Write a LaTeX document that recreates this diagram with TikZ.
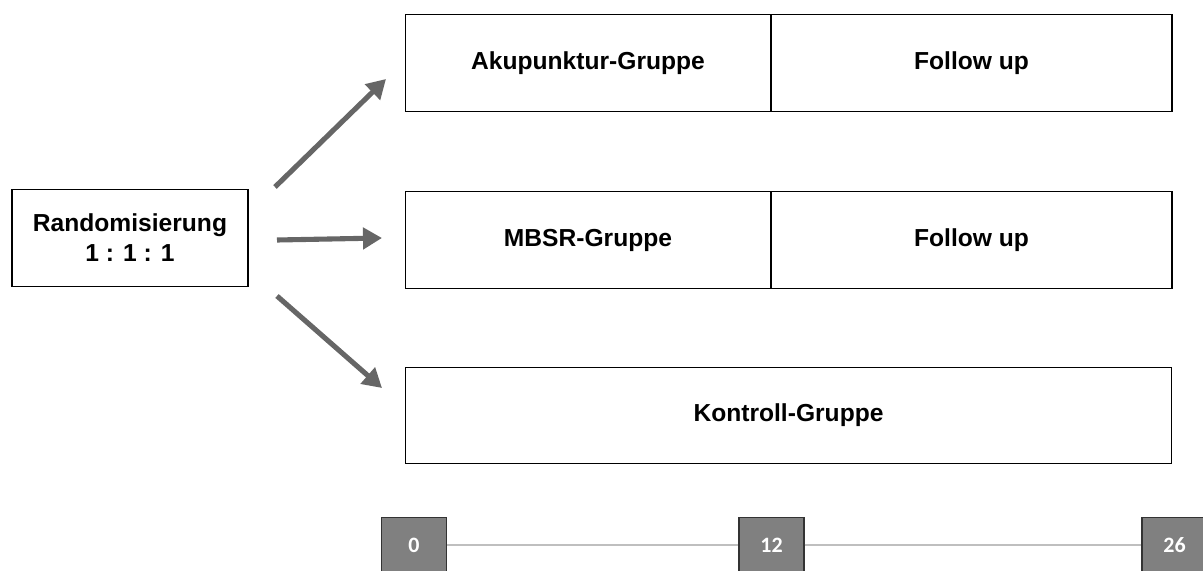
\documentclass[tikz,border=0pt]{standalone}
\usepackage{fontspec}
\setmainfont{Liberation Sans}
\newfontfamily\tickfont{Carlito}
\usetikzlibrary{arrows.meta}

\tikzset{
  armbox/.style={draw, line width=0.6pt, minimum height=1.93cm, inner sep=0pt, font=\bfseries\fontsize{14}{17}\selectfont},
  tickbox/.style={draw=black!80, fill=black!50, line width=0.6pt, minimum width=1.3cm, minimum height=1.1cm, inner sep=0pt, text=white, font=\tickfont\bfseries\fontsize{12.5}{14}\selectfont},
  grayarrow/.style={draw=black!60, line width=2.9pt, -{Triangle[length=0.38cm, width=0.42cm]}}
}

\begin{document}
\begin{tikzpicture}[x=0.02cm, y=-0.02cm]
  \useasboundingbox (0,0) rectangle (1203,571);
  \clip (0,0) rectangle (1203,571);

  % Randomisierung
  \node[armbox, minimum width=4.72cm, align=center] (rand) at (130,238) {Randomisierung\\1 : 1 : 1};

  % Gruppen
  \node[armbox, minimum width=7.32cm] (aku) at (588,63) {Akupunktur-Gruppe};
  \node[armbox, minimum width=8.02cm] (akufu) at (971.5,63) {Follow up};
  \node[armbox, minimum width=7.32cm] (mbsr) at (588,240) {MBSR-Gruppe};
  \node[armbox, minimum width=8.02cm] (mbsrfu) at (971.5,240) {Follow up};
  \node[armbox, minimum width=15.34cm] (kontr) at (788.5,415.5) {Kontroll-Gruppe};

  % Pfeile
  \coordinate (upstart) at (275,187);
  \coordinate (upend) at (386,79);
  \coordinate (midstart) at (277,240);
  \coordinate (midend) at (382,238);
  \coordinate (lowstart) at (277,296);
  \coordinate (lowend) at (382,388);
  \draw[grayarrow] (upstart) -- (upend);
  \draw[grayarrow] (midstart) -- (midend);
  \draw[grayarrow] (lowstart) -- (lowend);

  % Zeitachse (Wochen)
  \node[tickbox] (t0) at (414,545) {0};
  \node[tickbox] (t12) at (771.5,545) {12};
  \node[tickbox] (t26) at (1174.5,545) {26};
  \draw[black!25, line width=1.2pt] (t0) -- (t12);
  \draw[black!25, line width=1.2pt] (t12) -- (t26);
\end{tikzpicture}
\end{document}
